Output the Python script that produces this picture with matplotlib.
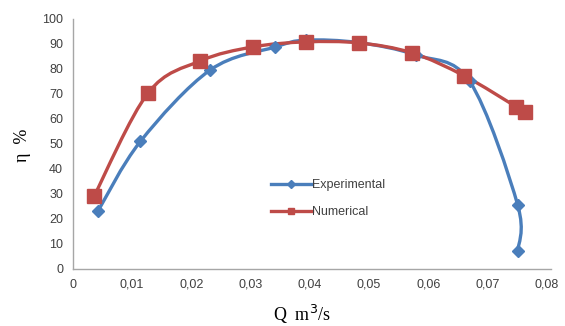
# efficiency curve, experimental vs numerical
import matplotlib
matplotlib.use('Agg')

import numpy as np
import matplotlib.pyplot as plt
import matplotlib.ticker as ticker
from matplotlib.path import Path
from matplotlib.patches import PathPatch

# data
q_exp = [0.0042, 0.0114, 0.0232, 0.0342, 0.0393, 0.0483, 0.0580, 0.0670, 0.0751, 0.0751]
eta_exp = [23, 51, 79.6, 88.8, 91.5, 90.5, 85.5, 75, 25.6, 7]
q_num = [0.0036, 0.0127, 0.0215, 0.0304, 0.0393, 0.0483, 0.0573, 0.0661, 0.0749, 0.0763]
eta_num = [29.2, 70.4, 83.2, 88.8, 90.8, 90.4, 86.4, 77.2, 64.8, 62.8]

x_ticks = [0, 0.01, 0.02, 0.03, 0.04, 0.05, 0.06, 0.07, 0.08]
y_ticks = [0, 10, 20, 30, 40, 50, 60, 70, 80, 90, 100]

blue = '#4a7ebb'
red = '#be4b48'


def smooth_path(ax, xs, ys, tension=1/6.):
    # excel-like smoothed line: bezier through points, built in display space
    pts = ax.transData.transform(np.column_stack([xs, ys]))
    n = len(pts)
    verts = [pts[0]]
    codes = [Path.MOVETO]
    for i in range(n - 1):
        p0 = pts[max(i - 1, 0)]
        p1 = pts[i]
        p2 = pts[i + 1]
        p3 = pts[min(i + 2, n - 1)]
        c1 = p1 + (p2 - p0) * tension
        c2 = p2 - (p3 - p1) * tension
        verts += [c1, c2, p2]
        codes += [Path.CURVE4] * 3
    return Path(verts, codes)


fig = plt.figure(figsize=(5.65, 3.26), dpi=100)
ax = fig.add_axes([0.129, 0.175, 0.847, 0.767])
ax.set_xlim(0, 0.0808)
ax.set_ylim(0, 100)
ax.set_xticks(x_ticks)
ax.set_yticks(y_ticks)

def fmt(x, pos):
    if abs(x) < 1e-12:
        return '0'
    return ('%.2f' % x).replace('.', ',')
ax.xaxis.set_major_formatter(ticker.FuncFormatter(fmt))

for s in ['top', 'right']:
    ax.spines[s].set_visible(False)
for s in ['left', 'bottom']:
    ax.spines[s].set_color('#a6a6a6')
    ax.spines[s].set_linewidth(1.0)
ax.tick_params(length=0, labelsize=9, colors='#404040', pad=7)
for lab in ax.get_xticklabels() + ax.get_yticklabels():
    lab.set_fontfamily('Liberation Sans')

fig.canvas.draw()
for xs, ys, c in [(q_exp, eta_exp, blue), (q_num, eta_num, red)]:
    p = smooth_path(ax, xs, ys)
    ax.add_patch(PathPatch(p, transform=None, facecolor='none', edgecolor=c,
                           lw=2.4, capstyle='round', zorder=2))

ax.plot(q_exp, eta_exp, ls='none', marker='D', ms=6.5, color=blue, zorder=3)
ax.plot(q_num, eta_num, ls='none', marker='s', ms=9.5, color=red, zorder=4)

# legend proxies
h1, = ax.plot([], [], color=blue, lw=2.4, marker='D', ms=4, label='Experimental')
h2, = ax.plot([], [], color=red, lw=2.4, marker='s', ms=5, label='Numerical')
leg = ax.legend(handles=[h1, h2], loc='upper left', bbox_to_anchor=(0.39, 0.405),
                frameon=False, handlelength=3.3, handletextpad=0.0,
                labelspacing=1.2, prop={'family': 'Liberation Sans', 'size': 9})
for t in leg.get_texts():
    t.set_color('#404040')

fig.text(0.04, 0.555, 'η  %', rotation=90, ha='center', va='center',
         fontsize=13, family='Liberation Serif')
fig.text(0.535, 0.035, 'Q  m$^3$/s', ha='center', va='center',
         fontsize=13, family='Liberation Serif')

fig.savefig('out.png', dpi=100)
